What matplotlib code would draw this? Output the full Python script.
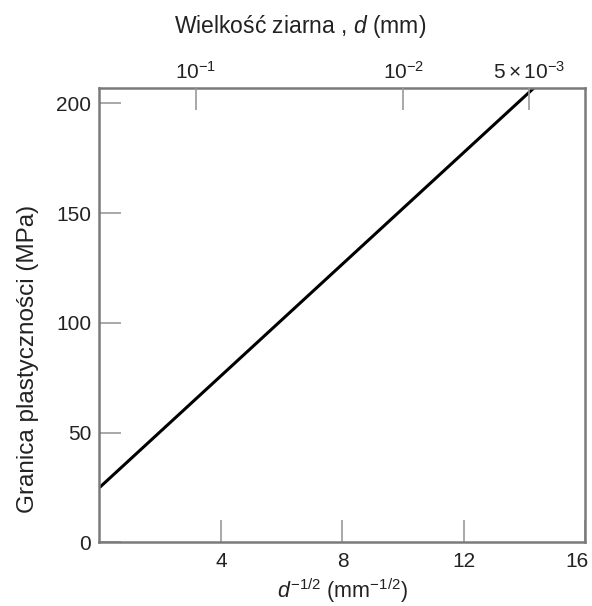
import numpy as np
import matplotlib
matplotlib.use('Agg')
import matplotlib.pyplot as plt
from matplotlib.transforms import ScaledTranslation

plt.rcParams['font.family'] = ['Liberation Sans', 'DejaVu Sans']
plt.rcParams['mathtext.fontset'] = 'custom'
plt.rcParams['mathtext.rm'] = 'Liberation Sans'
plt.rcParams['mathtext.it'] = 'Liberation Sans:italic'

# dane
x_line = [0.0, 14.3]          # d^-1/2 (mm^-1/2)
y_line = [25.0, 207.0]        # granica plastycznosci (MPa)
x_ticks = [4, 8, 12, 16]
y_ticks = [0, 50, 100, 150, 200]
d_top = [1e-1, 1e-2, 5e-3]    # wielkosc ziarna (mm)
d_top_labels = [r'$10^{-1}$', r'$10^{-2}$', r'$5\times10^{-3}$']

spine_col = '#7a7a7a'
text_col = '#222222'

fig = plt.figure(figsize=(5.92, 6.06), dpi=100)
ax = fig.add_axes([0.168, 0.1048, 0.821, 0.750])
ax.plot(x_line, y_line, color='black', linewidth=2.2, solid_capstyle='butt')
ax.set_xlim(0, 16)
ax.set_ylim(0, 207)
ax.set_xticks(x_ticks)
ax.set_yticks(y_ticks)
ax.tick_params(direction='in', length=16, width=1.2, color='#999999',
               labelsize=15, labelcolor=text_col)
ax.tick_params(axis='x', pad=7)
ax.tick_params(axis='y', pad=6)
for s in ax.spines.values():
    s.set_color(spine_col)
    s.set_linewidth(1.8)
# ostatnia etykieta "16" przesunieta w lewo, zeby sie miescila
lab16 = ax.get_xticklabels()[-1]
lab16.set_transform(lab16.get_transform() + ScaledTranslation(-6 / 72, 0, fig.dpi_scale_trans))
ax.set_xlabel(r'$d^{-1/2}$ (mm$^{-1/2}$)', fontsize=15.5, color=text_col, labelpad=4)
ax.set_ylabel('Granica plastyczności (MPa)', fontsize=17.5, color=text_col, labelpad=12)
ax.yaxis.label.set_y(0.404)

# gorna os: wielkosc ziarna d
ax2 = ax.twiny()
ax2.set_xlim(ax.get_xlim())
ax2.set_xticks(1 / np.sqrt(np.array(d_top)))
ax2.set_xticklabels(d_top_labels)
ax2.tick_params(direction='in', length=16, width=1.2, color='#999999',
                labelsize=15, labelcolor=text_col, pad=4)
for s in ax2.spines.values():
    s.set_visible(False)
ax2.set_xlabel('Wielkość ziarna , $d$ (mm)', fontsize=16.5, color=text_col, labelpad=20)
ax2.xaxis.label.set_x(0.4125)

fig.savefig('out.png', dpi=100)
